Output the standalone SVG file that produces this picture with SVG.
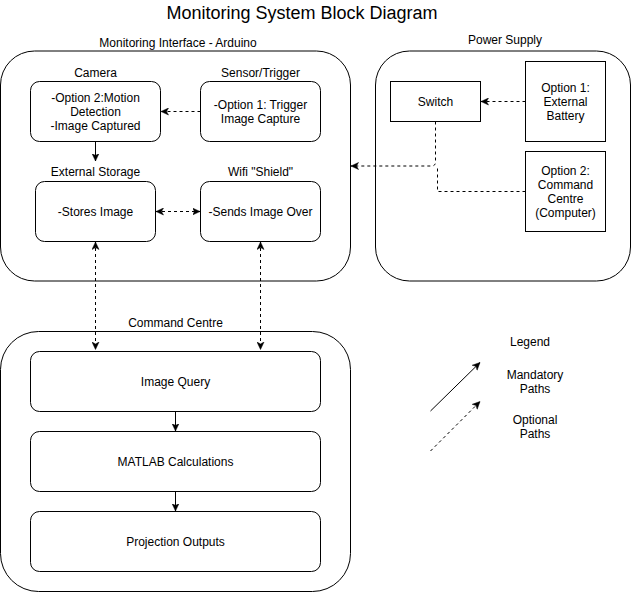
<svg xmlns="http://www.w3.org/2000/svg" width="631" height="592" viewBox="0 0 631 592">
<style>
  .box { fill: #fff; stroke: #000; stroke-width: 1; }
  .t { font-family: "Liberation Sans", Arial, sans-serif; font-size: 12px; fill: #000; text-anchor: middle; }
  .title { font-family: "Liberation Sans", Arial, sans-serif; font-size: 18px; fill: #000; text-anchor: middle; }
  .ln { fill: none; stroke: #000; stroke-width: 1; }
  .dash { stroke-dasharray: 3 3; }
  .arr { marker-end: url(#ah); }
  .arr2 { marker-start: url(#ah); marker-end: url(#ah); }
</style>
<defs>
  <marker id="ah" viewBox="0 0 8 8" markerWidth="8" markerHeight="8" refX="7.5" refY="4" orient="auto-start-reverse" markerUnits="userSpaceOnUse">
    <path d="M0,0.5 L7.5,4 L0,7.5 L2,4 Z" fill="#000" stroke="#000" stroke-width="0.5"/>
  </marker>
</defs>
<rect width="631" height="592" fill="#fff"/>
<text class="title" x="302" y="19">Monitoring System Block Diagram</text>

<g id="monitoring">
  <rect class="box" x="0.5" y="51" width="350" height="230" rx="34" ry="34"/>
  <text class="t" x="178" y="46.5">Monitoring Interface - Arduino</text>
</g>
<g id="power">
  <rect class="box" x="375.5" y="51" width="255" height="230" rx="34" ry="34"/>
  <text class="t" x="505" y="44">Power Supply</text>
</g>
<g id="command">
  <rect class="box" x="0.5" y="331.5" width="350" height="260" rx="38" ry="38"/>
  <text class="t" x="175.5" y="327">Command Centre</text>
</g>

<g id="camera">
  <rect class="box" x="30.5" y="81.5" width="130" height="60" rx="9" ry="9"/>
  <text class="t" x="95.5" y="76.5">Camera</text>
  <text class="t" x="95.5" y="102">-Option 2:Motion</text>
  <text class="t" x="95.5" y="116">Detection</text>
  <text class="t" x="95.5" y="130">-Image Captured</text>
</g>
<g id="sensor">
  <rect class="box" x="200.5" y="81.5" width="120" height="60" rx="9" ry="9"/>
  <text class="t" x="260.5" y="76.5">Sensor/Trigger</text>
  <text class="t" x="260.5" y="109">-Option 1: Trigger</text>
  <text class="t" x="260.5" y="123">Image Capture</text>
</g>
<g id="storage">
  <rect class="box" x="35.5" y="181.5" width="120" height="60" rx="9" ry="9"/>
  <text class="t" x="95.5" y="176">External Storage</text>
  <text class="t" x="95.5" y="215.5">-Stores Image</text>
</g>
<g id="wifi">
  <rect class="box" x="200.5" y="181.5" width="120" height="60" rx="9" ry="9"/>
  <text class="t" x="260.5" y="176">Wifi "Shield"</text>
  <text class="t" x="260.5" y="215.5">-Sends Image Over</text>
</g>

<g id="switch">
  <rect class="box" x="390.5" y="81.5" width="90" height="40"/>
  <text class="t" x="435.5" y="105.5">Switch</text>
</g>
<g id="option1">
  <rect class="box" x="525.5" y="61.5" width="80" height="80"/>
  <text class="t" x="565.5" y="91.5">Option 1:</text>
  <text class="t" x="565.5" y="105.5">External</text>
  <text class="t" x="565.5" y="119.5">Battery</text>
</g>
<g id="option2">
  <rect class="box" x="525.5" y="151.5" width="80" height="80"/>
  <text class="t" x="565.5" y="174.5">Option 2:</text>
  <text class="t" x="565.5" y="188.5">Command</text>
  <text class="t" x="565.5" y="202.5">Centre</text>
  <text class="t" x="565.5" y="216.5">(Computer)</text>
</g>

<g id="query">
  <rect class="box" x="30.5" y="351.5" width="290" height="60" rx="9" ry="9"/>
  <text class="t" x="175.5" y="385.5">Image Query</text>
</g>
<g id="matlab">
  <rect class="box" x="30.5" y="431.5" width="290" height="60" rx="9" ry="9"/>
  <text class="t" x="175.5" y="465.5">MATLAB Calculations</text>
</g>
<g id="projection">
  <rect class="box" x="30.5" y="511.5" width="290" height="60" rx="9" ry="9"/>
  <text class="t" x="175.5" y="545.5">Projection Outputs</text>
</g>

<g id="legend">
  <text class="t" x="530" y="346">Legend</text>
  <text class="t" x="535" y="378.5">Mandatory</text>
  <text class="t" x="535" y="392.5">Paths</text>
  <text class="t" x="535" y="423.5">Optional</text>
  <text class="t" x="535" y="437.5">Paths</text>
</g>

<g id="connectors">
  <path class="ln dash arr" d="M200.5,111.5 H161"/>
  <path class="ln arr" d="M95.5,141.5 V161"/>
  <path class="ln dash arr2" d="M156,211.5 H200"/>
  <path class="ln dash arr2" d="M95.5,242 V349.5"/>
  <path class="ln dash arr2" d="M260.5,242 V349.5"/>
  <path class="ln arr" d="M175.5,411.5 V431"/>
  <path class="ln arr" d="M175.5,491.5 V511"/>
  <path class="ln dash arr" d="M525.5,101.5 H481"/>
  <path class="ln dash arr" d="M435.5,121.5 V162 Q435.5,166 431.5,166 H351"/>
  <path class="ln dash" d="M525.5,191.5 H437.5 V167"/>
  <path class="ln arr" d="M430.5,411 L480,362.5"/>
  <path class="ln dash arr" d="M430.5,451 L480,401.5"/>
</g>
</svg>
